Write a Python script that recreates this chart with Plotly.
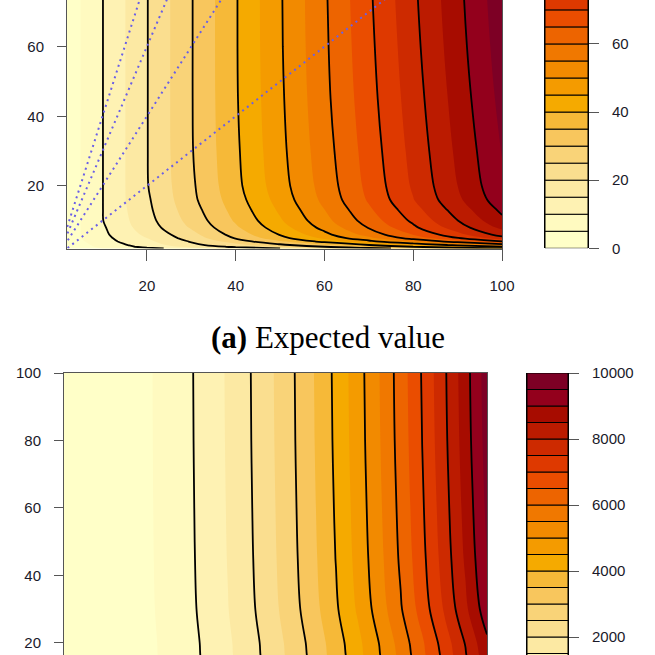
import math
import plotly.graph_objects as go

# ---------------- data ----------------
# Panel (a): expected value on an (x, y) grid
ev_x = [2, 5, 10, 15, 20, 30, 40, 50, 60, 70, 80, 90, 100]
ev_y = [2, 2.5, 3, 4, 5, 6, 8, 10, 13, 16, 20, 30, 45, 60, 80, 100]
ev_z = [
    [1.5, 2.8, 5.0, 7.0, 8.6, 12.3, 16.0, 20.0, 24.0, 28.0, 32.0, 36.0, 40.0],
    [1.7, 3.3, 6.0, 9.0, 11.2, 16.5, 21.0, 25.0, 30.0, 35.0, 40.0, 45.0, 50.0],
    [1.8, 3.6, 6.6, 9.6, 12.4, 18.6, 23.2, 28.8, 34.2, 39.9, 45.6, 51.3, 57.0],
    [1.9, 4.3, 7.6, 11.1, 13.8, 20.4, 27.2, 34.3, 41.4, 48.3, 55.2, 62.1, 69.5],
    [1.95, 4.9, 8.3, 12.0, 15.0, 22.2, 30.4, 38.3, 46.2, 53.9, 62.0, 69.8, 78.0],
    [1.97, 4.93, 8.8, 12.8, 16.0, 23.4, 32.0, 40.3, 48.6, 57.1, 65.2, 73.4, 82.0],
    [1.98, 4.95, 9.3, 13.6, 17.4, 25.5, 34.2, 42.8, 51.6, 60.3, 69.0, 77.6, 86.2],
    [1.98, 4.95, 9.85, 14.1, 18.2, 26.7, 35.6, 44.4, 53.4, 62.3, 71.0, 79.9, 88.8],
    [1.98, 4.95, 9.9, 14.5, 18.8, 27.8, 36.8, 45.8, 54.9, 64.1, 73.0, 82.1, 91.0],
    [1.98, 4.95, 9.9, 14.8, 19.2, 28.7, 37.8, 47.0, 56.3, 65.6, 74.8, 84.0, 93.0],
    [1.98, 4.95, 9.9, 14.85, 19.7, 29.1, 38.6, 47.9, 57.1, 66.4, 75.7, 85.0, 94.2],
    [1.98, 4.95, 9.9, 14.85, 19.8, 29.6, 39.1, 48.6, 57.9, 67.2, 76.6, 86.0, 95.2],
    [1.98, 4.95, 9.9, 14.85, 19.8, 29.7, 39.5, 49.1, 58.7, 68.1, 77.6, 87.1, 96.5],
    [1.98, 4.95, 9.9, 14.85, 19.8, 29.7, 39.6, 49.4, 59.1, 68.7, 78.4, 88.0, 97.5],
    [1.98, 4.95, 9.9, 14.85, 19.8, 29.7, 39.6, 49.5, 59.4, 69.3, 79.2, 88.8, 98.5],
    [1.98, 4.95, 9.9, 14.85, 19.8, 29.7, 39.6, 49.5, 59.5, 69.4, 79.4, 89.1, 99.0],
]
ev_levels = list(range(0, 101, 5))
ev_line_levels = (10, 90, 10)
ev_ticks_x = [20, 40, 60, 80, 100]
ev_ticks_y = [20, 40, 60]
cb_top_ticks = [0, 20, 40, 60]
ratio_slopes = [1, 2, 3, 4]

# Panel (b): second panel values on an (x, y) grid
sq_x = [2, 5, 10, 15, 20, 25, 30, 35, 40, 45, 50, 55, 60, 65, 70, 75, 80, 85, 90, 95, 100]
sq_y = [2, 5, 10, 15, 20, 30, 45, 60, 80, 100]
sq_z = [
    [1, 5, 20, 45, 80, 125, 180, 245, 320, 405, 500, 605, 720, 845, 980, 1125, 1280, 1445, 1620, 1805, 2000],
    [2, 14, 55, 124, 220, 344, 495, 674, 880, 1114, 1375, 1664, 1980, 2324, 2695, 3094, 3520, 3974, 4455, 4964, 5500],
    [3, 20, 80, 180, 320, 500, 720, 980, 1280, 1620, 2000, 2420, 2880, 3380, 3920, 4500, 5120, 5780, 6480, 7220, 8000],
    [4, 22, 88, 197, 350, 547, 788, 1072, 1400, 1772, 2188, 2647, 3150, 3697, 4288, 4922, 5600, 6322, 7088, 7897, 8750],
    [4, 23, 89, 201, 356, 556, 801, 1090, 1424, 1802, 2225, 2692, 3204, 3760, 4361, 5006, 5696, 6430, 7209, 8032, 8900],
    [4, 23, 93, 209, 372, 581, 837, 1139, 1488, 1883, 2325, 2813, 3348, 3929, 4557, 5231, 5952, 6719, 7533, 8393, 9300],
    [4, 24, 95, 214, 380, 594, 855, 1164, 1520, 1924, 2375, 2874, 3420, 4014, 4655, 5344, 6080, 6864, 7695, 8574, 9500],
    [4, 24, 96, 216, 384, 600, 864, 1176, 1536, 1944, 2400, 2904, 3456, 4056, 4704, 5400, 6144, 6936, 7776, 8664, 9600],
    [4, 24, 97, 218, 388, 606, 873, 1188, 1552, 1964, 2425, 2934, 3492, 4098, 4753, 5456, 6208, 7008, 7857, 8754, 9700],
    [4, 24, 98, 219, 390, 609, 878, 1194, 1560, 1974, 2438, 2949, 3510, 4119, 4778, 5484, 6240, 7044, 7898, 8799, 9750],
]
sq_levels = list(range(0, 10001, 500))
sq_line_levels = (1000, 9000, 1000)
sq_ticks_y = [20, 40, 60, 80, 100]
cb_bot_ticks = [2000, 4000, 6000, 8000, 10000]

caption = "<b>(a)</b> Expected value"


# ---------------- palette: HCL sequential "YlOrRd", light to dark ----------------
def hcl_ylorrd(n):
    h1, h2, c1, c2, l1, l2, p1, p2, cmax = 5, 85, 75, 40, 25, 99, 1.6, 1.3, 180
    j = 1 / (1 + abs(cmax - c1) / abs(cmax - c2))
    Xn, Yn, Zn = 95.047, 100.0, 108.883
    un = 4 * Xn / (Xn + 15 * Yn + 3 * Zn)
    vn = 9 * Yn / (Xn + 15 * Yn + 3 * Zn)
    out = []
    for k in range(n):
        i = k / (n - 1)
        L = l2 - (l2 - l1) * i ** p2
        ip = i ** p1
        C = c2 - (c2 - cmax) * ip / j if ip <= j else cmax - (cmax - c1) * (ip - j) / (1 - j)
        H = h2 - (h2 - h1) * i
        U = C * math.cos(math.radians(H))
        V = C * math.sin(math.radians(H))
        Y = Yn * (((L + 16) / 116) ** 3 if L > 8 else L / 903.3)
        up = U / (13 * L) + un
        vp = V / (13 * L) + vn
        X = 9.0 * Y * up / (4 * vp)
        Z = -X / 3 - 5 * Y + 3 * Y / vp
        X, Y, Z = X / 100, Y / 100, Z / 100
        r = 3.240479 * X - 1.537150 * Y - 0.498535 * Z
        g = -0.969256 * X + 1.875992 * Y + 0.041556 * Z
        b = 0.055648 * X - 0.204043 * Y + 1.057311 * Z

        def gam(t):
            t = min(max(t, 0.0), 1.0)
            return 12.92 * t if t <= 0.0031308 else 1.055 * t ** (1 / 2.4) - 0.055

        out.append("#%02X%02X%02X" % tuple(int(round(gam(t) * 255)) for t in (r, g, b)))
    return out


def stepped_scale(cols):
    n = len(cols)  # plotly evaluates the fill of band k at (k+1)/(n+1)
    m = n + 1
    scale = []
    for k in range(m + 1):
        c = cols[min(max(k - 1, 0), n - 1)]
        lo = max((k - 0.5) / m, 0.0)
        hi = min((k + 0.5) / m, 1.0)
        scale.append([lo, c])
        scale.append([hi, c])
    return scale


palette = hcl_ylorrd(20)
cscale = stepped_scale(palette)

# ---------------- layout geometry (pixels of a 655 x 655 page) ----------------
W = H = 655


def px(v):
    return v / W


def py(v):
    return 1 - v / H


AX = "#555555"
TICKFONT = dict(family="Liberation Sans, Arial, sans-serif", size=15, color="#1a1a2a")

fig = go.Figure()

# ---- panel (a) ----
fig.add_trace(go.Contour(
    x=ev_x, y=ev_y, z=ev_z, colorscale=cscale, showscale=False,
    contours=dict(start=ev_levels[0], end=ev_levels[-1], size=ev_levels[1] - ev_levels[0],
                  coloring="fill", showlines=False),
    line=dict(width=0, smoothing=1.0), hoverinfo="skip", xaxis="x", yaxis="y"))
fig.add_trace(go.Contour(
    x=ev_x, y=ev_y, z=ev_z, showscale=False,
    contours=dict(start=ev_line_levels[0], end=ev_line_levels[1], size=ev_line_levels[2],
                  coloring="none", showlines=True),
    line=dict(color="black", width=1.8, smoothing=1.0), hoverinfo="skip", xaxis="x", yaxis="y"))
for s in ratio_slopes:
    fig.add_trace(go.Scatter(
        x=[0, ev_x[-1]], y=[0, s * ev_x[-1]], mode="lines",
        line=dict(color="#6a5fe6", width=2, dash="2px,4px"),
        hoverinfo="skip", showlegend=False, xaxis="x", yaxis="y"))

# colour key (a)
fig.add_trace(go.Bar(
    x=[0] * (len(ev_levels) - 1), y=[ev_levels[i + 1] - ev_levels[i] for i in range(len(ev_levels) - 1)],
    base=ev_levels[:-1], width=1, marker=dict(color=palette, line=dict(color="black", width=1)),
    hoverinfo="skip", showlegend=False, xaxis="x2", yaxis="y2"))

# ---- panel (b) ----
fig.add_trace(go.Contour(
    x=sq_x, y=sq_y, z=sq_z, colorscale=cscale, showscale=False,
    contours=dict(start=sq_levels[0], end=sq_levels[-1], size=sq_levels[1] - sq_levels[0],
                  coloring="fill", showlines=False),
    line=dict(width=0, smoothing=1.0), hoverinfo="skip", xaxis="x3", yaxis="y3"))
fig.add_trace(go.Contour(
    x=sq_x, y=sq_y, z=sq_z, showscale=False,
    contours=dict(start=sq_line_levels[0], end=sq_line_levels[1], size=sq_line_levels[2],
                  coloring="none", showlines=True),
    line=dict(color="black", width=1.8, smoothing=1.0), hoverinfo="skip", xaxis="x3", yaxis="y3"))

fig.add_trace(go.Bar(
    x=[0] * (len(sq_levels) - 1), y=[sq_levels[i + 1] - sq_levels[i] for i in range(len(sq_levels) - 1)],
    base=sq_levels[:-1], width=1, marker=dict(color=palette, line=dict(color="black", width=1)),
    hoverinfo="skip", showlegend=False, xaxis="x4", yaxis="y4"))

common = dict(showgrid=False, zeroline=False, tickfont=TICKFONT, automargin=False)

fig.update_layout(
    width=W, height=H, margin=dict(l=0, r=0, t=0, b=0, autoexpand=False),
    paper_bgcolor="white", plot_bgcolor="white", showlegend=False, barmode="overlay",
    # panel (a)
    xaxis=dict(domain=[px(67), px(502)], range=[2, 100], tickvals=ev_ticks_x,
               showline=True, linecolor=AX, linewidth=1, ticks="outside", ticklen=11,
               tickcolor=AX, ticklabelstandoff=12, anchor="y", **common),
    yaxis=dict(domain=[py(248.5), 1], range=[2, 73.4], tickvals=ev_ticks_y,
               showline=True, mirror=True, linecolor=AX, linewidth=1, ticks="outside",
               ticklen=9, tickcolor=AX, ticklabelstandoff=10, anchor="x", **common),
    xaxis2=dict(domain=[px(545), px(588)], range=[-0.5, 0.5], showticklabels=False,
                showline=False, anchor="y2", **common),
    yaxis2=dict(domain=[py(248.3), 1], range=[0, 72.9], tickvals=cb_top_ticks, side="right",
                showline=True, mirror=True, linecolor="black", linewidth=1, ticks="outside",
                ticklen=10, tickcolor=AX, ticklabelstandoff=10, anchor="x2", **common),
    # panel (b)
    xaxis3=dict(domain=[px(64), px(487)], range=[2, 100], side="top", showticklabels=False,
                showline=True, linecolor=AX, linewidth=1, ticks="", anchor="y3", **common),
    yaxis3=dict(domain=[0, py(373)], range=[16.44, 100], tickvals=sq_ticks_y,
                showline=True, mirror=True, linecolor=AX, linewidth=1, ticks="outside",
                ticklen=9, tickcolor=AX, ticklabelstandoff=10, anchor="x3", **common),
    xaxis4=dict(domain=[px(527), px(568)], range=[-0.5, 0.5], showticklabels=False,
                showline=False, anchor="y4", **common),
    yaxis4=dict(domain=[0, py(373)], range=[1455, 10000], tickvals=cb_bot_ticks, side="right",
                tickformat="d",
                showline=True, mirror=True, linecolor="black", linewidth=1, ticks="outside",
                ticklen=10, tickcolor=AX, ticklabelstandoff=10, anchor="x4", **common),
    annotations=[dict(text=caption, x=px(328), y=py(337), xref="paper", yref="paper",
                      showarrow=False, xanchor="center", yanchor="middle",
                      font=dict(family="Liberation Serif, Times New Roman, serif", size=31,
                                color="black"))],
)

fig.write_html("out.html", config={"displayModeBar": False},
               post_script="document.body.style.margin='0px';document.body.style.overflow='hidden';")
